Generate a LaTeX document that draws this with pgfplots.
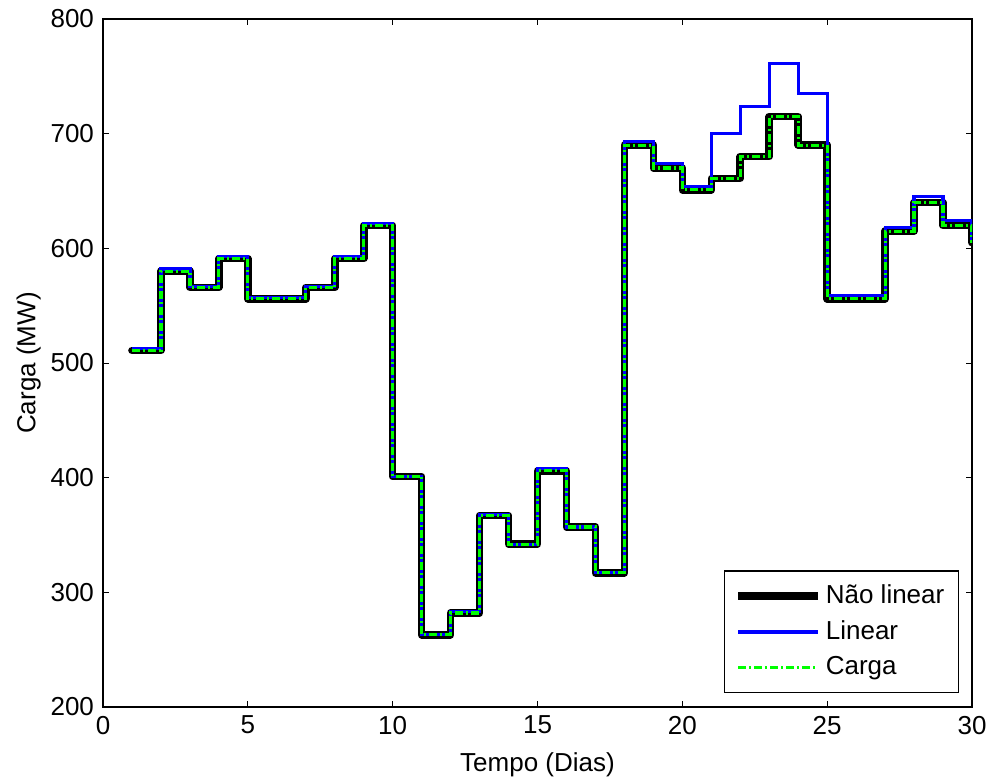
\documentclass[border=0pt]{standalone}
\usepackage{pgfplots}
\pgfplotsset{compat=1.18}
\usepackage{fontspec}
\setmainfont{Liberation Sans}
\begin{document}
\fontsize{13}{15}\selectfont
\begin{tikzpicture}
\pgfplotstableread{
x nl lin carga
1 511 513 511
2 580 582 580
3 566 567 566
4 591 593 591
5 556 557 556
6 556 557 556
7 566 567 566
8 591 593 591
9 620 622 620
10 401 401 401
11 263 263 263
12 282 283 282
13 367 368 367
14 342 342 342
15 406 408 406
16 357 357 357
17 317 317 317
18 690 693 690
19 670 674 670
20 651 654 651
21 661 700 661
22 680 724 680
23 715 761 715
24 690 735 690
25 556 559 556
26 556 559 556
27 615 618 615
28 640 645 640
29 620 624 620
30 605 605 605
}\data
\begin{axis}[
  scale only axis,
  width=434.5pt, height=344pt,
  xmin=0, xmax=30, ymin=200, ymax=800,
  xtick={0,5,...,30}, ytick={200,300,...,800},
  tick align=inside,
  major tick length=3pt,
  tick style={black, line width=0.5pt},
  axis line style={line width=0.7pt},
  /pgf/number format/assume math mode=true,
  ticklabel style={font=\fontsize{13}{15}\selectfont},
  xlabel={Tempo (Dias)}, ylabel={Carga (MW)},
  label style={font=\fontsize{13}{15}\selectfont},
  xlabel style={yshift=0pt},
  ylabel style={yshift=-4pt},
  legend style={at={(0.985,0.0203)}, anchor=south east, draw=black, line width=0.6pt,
    font=\fontsize{13}{15}\selectfont, row sep=2.5pt, inner xsep=5pt, inner ysep=5pt,
    cells={anchor=west}},
  legend cell align=left,
  legend image code/.code={\draw[#1, line cap=butt] (2pt,0pt) -- (42pt,0pt);},
]
\addplot[const plot, black, line width=3.8pt, line join=round, line cap=round] table[x=x, y=nl] {\data};
\addlegendentry{Não linear}
\addplot[const plot, blue, line width=1.6pt] table[x=x, y=lin] {\data};
\addlegendentry{Linear}
\addplot[const plot, color={rgb,1:red,0;green,1;blue,0}, line width=1.6pt, dash pattern=on 4pt off 1.5pt on 1pt off 1.5pt] table[x=x, y=carga] {\data};
\addlegendentry{Carga}
\end{axis}
\pgfresetboundingbox
\path[use as bounding box] (-51.5pt,-35.5pt) rectangle (442.5pt,353.5pt);
\end{tikzpicture}
\end{document}
